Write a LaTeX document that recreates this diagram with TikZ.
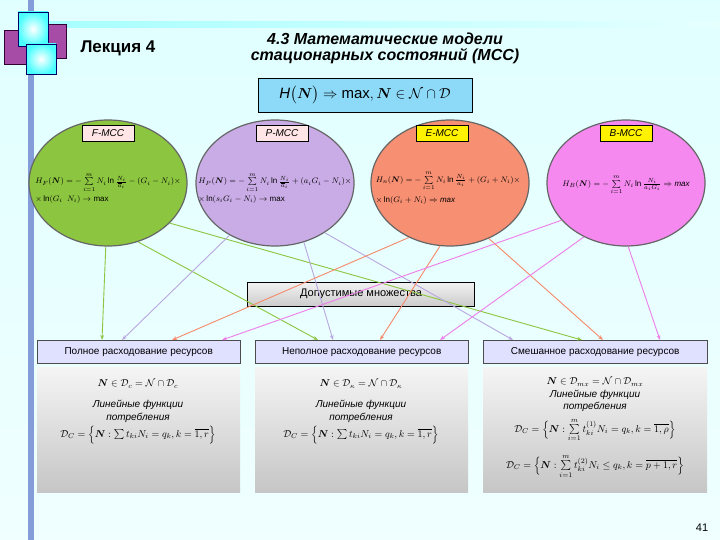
\documentclass[tikz,border=0pt]{standalone}
\usepackage{fontspec}
\setmainfont{Liberation Sans}
\usepackage{amsmath,amssymb}
\usetikzlibrary{shapes.geometric,arrows.meta}
\definecolor{gF}{HTML}{8CC540}
\definecolor{lP}{HTML}{C9ACE6}
\definecolor{oE}{HTML}{F78F72}
\definecolor{mB}{HTML}{F589F0}
\definecolor{lgF}{HTML}{8CC540}
\definecolor{lnP}{HTML}{B9A6E0}
\definecolor{lnE}{HTML}{F58A6A}
\definecolor{lnB}{HTML}{EE7DEA}
\tikzset{
 ell/.style={ellipse,draw=gray!80!black,line width=1.2pt,minimum width=158pt,minimum height=126pt,inner sep=0pt},
 tag/.style={draw=black,line width=0.4pt,minimum width=52pt,minimum height=16pt,inner sep=1pt,font=\fontsize{10}{11}\selectfont\itshape},
 hdr/.style={draw=black!70,fill=blue!12,anchor=north west,minimum height=23pt,inner sep=1pt,font=\fontsize{10}{12}\selectfont},
 pan/.style={anchor=north west,minimum height=125pt,top color=gray!8,bottom color=gray!45,inner sep=0pt},
 con/.style={-{Stealth[length=5pt]},line width=0.9pt},
 fm/.style={font=\fontsize{8}{10}\selectfont,align=left,inner sep=0pt}
}
\begin{document}
\begin{tikzpicture}[x=1pt,y=-1pt]
\useasboundingbox (0,0) rectangle (720,540);
\shade[top color=cyan!12,bottom color=cyan!6] (0,0) rectangle (720,540);
\fill[cyan!40!blue!50] (28,0) rectangle (34,540);
\shade[left color=cyan!35,right color=cyan!10] (34,22) rectangle (720,28);
% logo
\fill[violet!70,draw=violet!40!black] (4,30) rectangle (34,64);
\fill[violet!70,draw=violet!40!black] (36,24) rectangle (66,58);
\shade[inner color=white,outer color=cyan!70,draw=blue!40!black] (18,12) rectangle (48,46);
\shade[inner color=white,outer color=cyan!70,draw=blue!40!black] (26,44) rectangle (56,74);
\node (lec) at (118,48) {\fontsize{17}{19}\selectfont\bfseries Лекция 4};
\node (ttl) [align=center] at (385,48) {\fontsize{16}{19}\selectfont\bfseries\itshape 4.3 Математические модели\\[3pt] \fontsize{16}{19}\selectfont\bfseries\itshape стационарных состояний (МСС)};
\node (goal) [draw=black,fill=cyan!45,minimum width=214pt,minimum height=34pt] at (365,95) {\fontsize{15}{17}\selectfont $\mathit{H}\bigl(\boldsymbol{N}\bigr)\Rightarrow \mathrm{max},\boldsymbol{N}\in\mathcal{N}\cap\mathcal{D}$};
% ellipses
\node[ell,fill=gF] (F) at (108,183) {};
\node[ell,fill=lP] (P) at (275,183) {};
\node[ell,fill=oE] (E) at (450,183) {};
\node[ell,fill=mB] (B) at (626,183) {};
\node[tag,fill=pink!40] (tF) at (108,133) {F-MCC};
\node[tag,fill=pink!40] (tP) at (282,133) {P-MCC};
\node[tag,fill=yellow] (tE) at (442,133) {E-MCC};
\node[tag,fill=yellow] (tB) at (626,133) {B-MCC};
\node[fm] (fF) at (108,188) {$H_F(\boldsymbol N)=-\sum\limits_{i=1}^{m}N_i\ln\frac{N_i}{\overline{a}_i}-(G_i-N_i)\times$\\[2pt] $\times\ln(G_i\ \ N_i)\rightarrow\mathrm{max}$};
\node[fm] (fP) at (275,188) {$H_P(\boldsymbol N)=-\sum\limits_{i=1}^{m}N_i\ln\frac{N_i}{\overline{a}_i}+(a_iG_i-N_i)\times$\\[2pt] $\times\ln(s_iG_i-N_i)\rightarrow\mathrm{max}$};
\node[fm] (fE) at (448,188) {$H_n(\boldsymbol N)=-\sum\limits_{i=1}^{m}N_i\ln\frac{N_i}{a_i}+(G_i+N_i)\times$\\[5pt] $\times\ln(G_i+N_i)\Rightarrow \mathit{max}$};
\node[fm] (fB) at (626,185) {$H_B(\boldsymbol N)=-\sum\limits_{i=1}^{m}N_i\ln\frac{N_i}{a_iG_i}\Rightarrow \mathit{max}$};
% middle box
\node[draw=black,top color=gray!10,bottom color=gray!40,minimum width=227pt,minimum height=24pt,font=\fontsize{11}{13}\selectfont] (dop) at (361,294) {Допустимые множества};
% headers
\node[hdr,minimum width=203pt] (h1) at (37,340) {Полное расходование ресурсов};
\node[hdr,minimum width=213pt] (h2) at (255,340) {Неполное расходование ресурсов};
\node[hdr,minimum width=224pt] (h3) at (483,340) {Смешанное расходование ресурсов};
\node[pan,minimum width=203pt] (p1) at (37,367) {};
\node[pan,minimum width=213pt] (p2) at (255,367) {};
\node[pan,minimum width=224pt] (p3) at (483,367) {};
\node (m1) [align=center,font=\fontsize{10}{13}\selectfont] at (138,412) {$\boldsymbol N\in \mathcal{D}_c=\mathcal{N}\cap\mathcal{D}_c$\\[8pt] \itshape Линейные функции\\ \itshape потребления\\[2pt] $\mathcal{D}_C=\Bigl\{\boldsymbol N:\sum t_{ki}N_i=q_k,k=\overline{1,r}\Bigr\}$};
\node (m2) [align=center,font=\fontsize{10}{13}\selectfont] at (361,412) {$\boldsymbol N\in \mathcal{D}_{\kappa}=\mathcal{N}\cap\mathcal{D}_{\kappa}$\\[8pt] \itshape Линейные функции\\ \itshape потребления\\[2pt] $\mathcal{D}_C=\Bigl\{\boldsymbol N:\sum t_{ki}N_i=q_k,k=\overline{1,r}\Bigr\}$};
\node (m3) [align=center,font=\fontsize{10}{12.5}\selectfont] at (595,428) {$\boldsymbol N\in \mathcal{D}_{mx}=\mathcal{N}\cap\mathcal{D}_{mx}$\\ \itshape Линейные функции\\ \itshape потребления\\[6pt] $\mathcal{D}_C=\Bigl\{\boldsymbol N:\sum\limits_{i=1}^{m}t^{(1)}_{ki}N_i=q_k,k=\overline{1,\rho}\Bigr\}$\\[12pt] $\mathcal{D}_C=\Bigl\{\boldsymbol N:\sum\limits_{i=1}^{m}t^{(2)}_{ki}N_i\le q_k,k=\overline{p+1,r}\Bigr\}$};
% connectors
\coordinate (a11) at (102,340); \coordinate (a12) at (122,340); \coordinate (a13) at (172,340); \coordinate (a14) at (222,340);
\coordinate (a21) at (318,340); \coordinate (a22) at (333,340); \coordinate (a23) at (380,340); \coordinate (a24) at (440,340);
\coordinate (a31) at (582,340); \coordinate (a32) at (513,340); \coordinate (a33) at (603,340); \coordinate (a34) at (660,340);
\draw[con,lgF] (F.-92) -- (a11);
\draw[con,lgF] (F.-63) -- (a21);
\draw[con,lgF] (F.-33) -- (a31);
\draw[con,lnP] (P.-131) -- (a12);
\draw[con,lnP] (P.-64) -- (a22);
\draw[con,lnP] (P.-45) -- (a32);
\draw[con,lnE] (E.-127) -- (a13);
\draw[con,lnE] (E.-99) -- (a23);
\draw[con,lnE] (E.-55) -- (a33);
\draw[con,lnB] (B.-150) -- (a14);
\draw[con,lnB] (B.-128) -- (a24);
\draw[con,lnB] (B.-88) -- (a34);
\node (pg) at (702,528) {\fontsize{11}{13}\selectfont 41};
\end{tikzpicture}
\end{document}
